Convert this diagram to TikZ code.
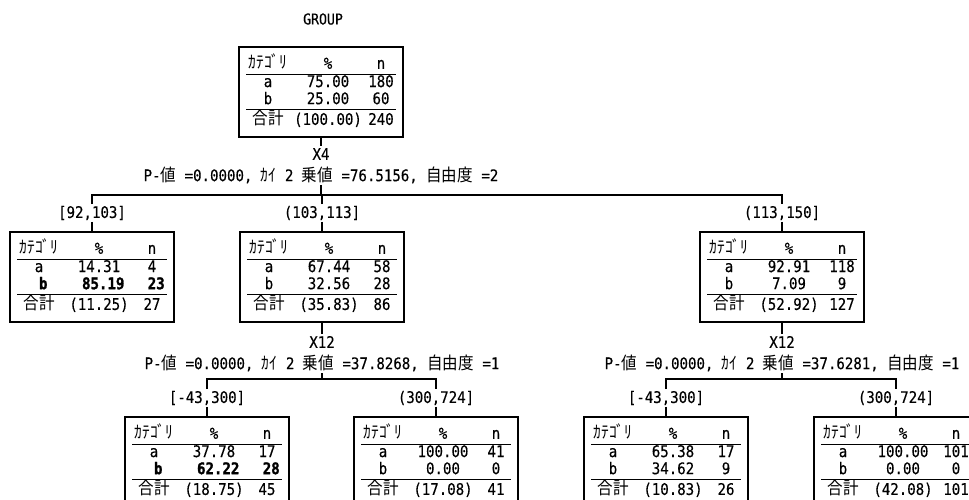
\documentclass[tikz,border=0pt]{standalone}
\usepackage{fontspec}
\usepackage{array}
\setmainfont{DejaVu Sans Mono}[FakeStretch=0.88, UprightFeatures={FakeBold=0.3}, BoldFeatures={FakeBold=1.5}]
\newfontfamily\jpfont{Noto Sans CJK JP}[FakeStretch=0.9, Scale=1.08]
\newcommand{\jp}[1]{{\jpfont #1}}
\usetikzlibrary{positioning}

\setlength{\tabcolsep}{3pt}
\setlength{\arrayrulewidth}{1.3pt}
% category table: rowfont a, %, n, rowfont b, %, n, total %, total n
\newcommand{\cattab}[8]{%
  \begin{tabular}{@{}w{c}{44pt}w{c}{64pt}w{c}{30pt}@{}}
    \jp{ｶﾃｺﾞﾘ} & \% & n\\ \hline
    #1 a & #1 #2 & #1 #3\\
    #4 b & #4 #5 & #4 #6\\ \hline
    \jp{合計} & (#7) & #8
  \end{tabular}}

\tikzset{
  catbox/.style={draw, line width=1.7pt, minimum width=164pt, minimum height=90pt,
    inner sep=0pt, font=\fontsize{16}{16.5}\selectfont},
  lbl/.style={inner sep=1.5pt, font=\fontsize{16}{16}\selectfont},
  edge/.style={line width=1.2pt}
}

\begin{document}
\begin{tikzpicture}[x=1pt, y=-1pt]
    \useasboundingbox (0,0) rectangle (969,499);
    \clip (0,0) rectangle (969,499);

    % root
    \node[lbl, font=\fontsize{15}{15}\selectfont] (grp) at (323,19) {GROUP};
    \node[catbox] (root) at (321,92) {\cattab{}{75.00}{180}{}{25.00}{60}{100.00}{240}};
    \node[lbl] (x4) at (321,154) {X4};
    \node[lbl] (p4) at (321,175) {P-\jp{値} =0.0000, \jp{ｶｲ} 2 \jp{乗値} =76.5156, \jp{自由度} =2};
    \coordinate (j4) at (321,195);

    % first split
    \node[lbl] (r1) at (92,213) {[92,103]};
    \node[lbl] (r2) at (322,213) {(103,113]};
    \node[lbl] (r3) at (782,213) {(113,150]};
    \node[catbox] (n1) at (92,277) {\cattab{}{14.31}{4}{\bfseries}{85.19}{23}{11.25}{27}};
    \node[catbox] (n2) at (322,277) {\cattab{}{67.44}{58}{}{32.56}{28}{35.83}{86}};
    \node[catbox] (n3) at (782,277) {\cattab{}{92.91}{118}{}{7.09}{9}{52.92}{127}};

    % split of n2
    \node[lbl] (x12a) at (322,342) {X12};
    \node[lbl] (p12a) at (322,363) {P-\jp{値} =0.0000, \jp{ｶｲ} 2 \jp{乗値} =37.8268, \jp{自由度} =1};
    \coordinate (j12a) at (322,379);
    \node[lbl] (r4) at (207,398) {[-43,300]};
    \node[lbl] (r5) at (436,398) {(300,724]};
    \node[catbox] (n4) at (207,462) {\cattab{}{37.78}{17}{\bfseries}{62.22}{28}{18.75}{45}};
    \node[catbox] (n5) at (436,462) {\cattab{}{100.00}{41}{}{0.00}{0}{17.08}{41}};

    % split of n3
    \node[lbl] (x12b) at (782,342) {X12};
    \node[lbl] (p12b) at (782,363) {P-\jp{値} =0.0000, \jp{ｶｲ} 2 \jp{乗値} =37.6281, \jp{自由度} =1};
    \coordinate (j12b) at (782,379);
    \node[lbl] (r6) at (666,398) {[-43,300]};
    \node[lbl] (r7) at (896,398) {(300,724]};
    \node[catbox] (n6) at (666,462) {\cattab{}{65.38}{17}{}{34.62}{9}{10.83}{26}};
    \node[catbox] (n7) at (896,462) {\cattab{}{100.00}{101}{}{0.00}{0}{42.08}{101}};

    % connectors
    \draw[edge] (root.south) -- (x4.north);
    \draw[edge] (p4.south) -- (j4);
    \draw[edge] (r1.north) |- (j4) -| (r3.north);
    \draw[edge] (r2.north) -- (r2.north |- j4);
    \draw[edge] (r1.south) -- (n1.north);
    \draw[edge] (r2.south) -- (n2.north);
    \draw[edge] (r3.south) -- (n3.north);

    \draw[edge] (n2.south) -- (x12a.north);
    \draw[edge] (p12a.south) -- (j12a);
    \draw[edge] (r4.north) |- (j12a) -| (r5.north);
    \draw[edge] (r4.south) -- (n4.north);
    \draw[edge] (r5.south) -- (n5.north);

    \draw[edge] (n3.south) -- (x12b.north);
    \draw[edge] (p12b.south) -- (j12b);
    \draw[edge] (r6.north) |- (j12b) -| (r7.north);
    \draw[edge] (r6.south) -- (n6.north);
    \draw[edge] (r7.south) -- (n7.north);
\end{tikzpicture}
\end{document}
